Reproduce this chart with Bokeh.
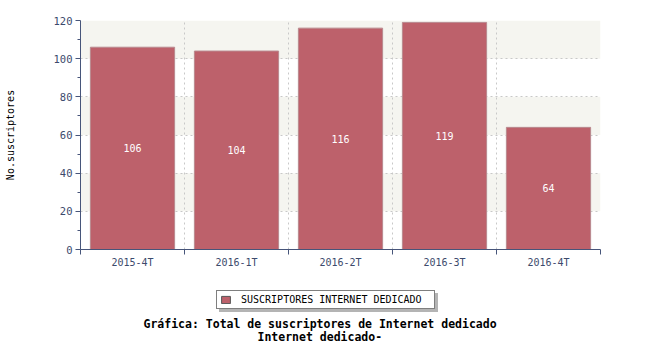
from bokeh.plotting import figure
from bokeh.layouts import column
from bokeh.models import (Range1d, FixedTicker, LinearAxis, Legend, LegendItem,
                          Label, Grid, ColumnDataSource)
from bokeh.core.properties import value
from bokeh.embed import file_html
from bokeh.resources import INLINE

categories = ["2015-4T", "2016-1T", "2016-2T", "2016-3T", "2016-4T"]
values = [106, 104, 116, 119, 64]
series_name = "SUSCRIPTORES INTERNET DEDICADO"
y_ticks = [0, 20, 40, 60, 80, 100, 120]
y_minor = [10, 30, 50, 70, 90, 110]
title_lines = ["Gráfica: Total de suscriptores de Internet dedicado", "Internet dedicado-"]
y_label = "No.suscriptores"

FONT = "DejaVu Sans Mono"
AXIS_COLOR = "#47557a"
LABEL_COLOR = "#3c4a6c"
BAR_COLOR = "#bd616b"
BAR_EDGE = "#b98a8f"
GRID_COLOR = "#c8c8c8"

n = len(categories)
centers = [i + 0.5 for i in range(n)]
bounds = [i for i in range(n + 1)]

src = ColumnDataSource(dict(
    x=centers, top=values, mid=[v / 2 for v in values],
    txt=[str(v) for v in values], cat=categories))

# ---------------- main chart ----------------
p = figure(width=650, height=270, output_backend="svg", toolbar_location=None,
           x_range=Range1d(0, n), y_range=Range1d(0, 120),
           min_border_left=80, min_border_right=50, min_border_top=20,
           min_border_bottom=20, x_axis_type=None)
p.outline_line_color = None
p.background_fill_color = "white"

r = p.vbar(x="x", top="top", width=0.81, source=src, fill_color=BAR_COLOR,
           line_color=BAR_EDGE, line_width=1)
p.text(x="x", y="mid", text="txt", source=src, text_color="white",
       text_font_size="10px", text_align="center", text_baseline="middle",
       text_font=value(FONT))

ya = p.yaxis[0]
ya.ticker = FixedTicker(ticks=y_ticks, minor_ticks=y_minor)
ya.axis_line_color = AXIS_COLOR
ya.major_tick_line_color = AXIS_COLOR
ya.minor_tick_line_color = AXIS_COLOR
ya.major_tick_in = 0
ya.major_tick_out = 5
ya.minor_tick_in = 0
ya.minor_tick_out = 3
ya.major_label_standoff = 3
ya.major_label_text_color = LABEL_COLOR
ya.major_label_text_font = FONT
ya.major_label_text_font_size = "10.5px"
ya.axis_label = y_label
ya.axis_label_standoff = 35
ya.axis_label_text_font = FONT
ya.axis_label_text_font_style = "normal"
ya.axis_label_text_font_size = "10px"
ya.axis_label_text_color = "black"

xa = LinearAxis(ticker=FixedTicker(ticks=bounds))
xa.axis_line_color = AXIS_COLOR
xa.major_tick_line_color = AXIS_COLOR
xa.minor_tick_line_color = None
xa.major_tick_in = 0
xa.major_tick_out = 5
xa.major_label_text_font_size = "0px"
xa.major_label_text_color = None
xa.major_label_standoff = 0
p.add_layout(xa, "below")

xl = LinearAxis(ticker=FixedTicker(ticks=centers),
                major_label_overrides={c: cat for c, cat in zip(centers, categories)})
xl.axis_line_color = None
xl.major_tick_line_color = None
xl.minor_tick_line_color = None
xl.major_tick_out = 0
xl.major_tick_in = 0
xl.major_label_standoff = 2
xl.major_label_text_color = LABEL_COLOR
xl.major_label_text_font = FONT
xl.major_label_text_font_size = "10px"
p.add_layout(xl, "below")

p.ygrid.ticker = FixedTicker(ticks=y_ticks)
p.ygrid.grid_line_color = GRID_COLOR
p.ygrid.grid_line_dash = "2 3"
p.ygrid.band_fill_color = "#f5f5f0"
p.ygrid.band_fill_alpha = 1.0
p.add_layout(Grid(dimension=0, ticker=FixedTicker(ticks=bounds),
                  grid_line_color=GRID_COLOR, grid_line_dash="2 3"))

# ---------------- legend + caption strip ----------------
p2 = figure(width=650, height=80, output_backend="svg", toolbar_location=None,
            x_range=Range1d(-100, -50), y_range=Range1d(-100, -50),
            min_border_left=0, min_border_right=0, min_border_top=0,
            min_border_bottom=0, x_axis_type=None, y_axis_type=None)
p2.outline_line_color = None
p2.xgrid.visible = False
p2.ygrid.visible = False

# series renderers used only for the legend swatches (hidden in this strip)
swatch = p2.vbar(x="x", top="top", width=0.81, source=src,
                 fill_color=BAR_COLOR, line_color="#555555", visible=False)
ghost = p2.vbar(x="x", top="top", width=0.81, source=src,
                fill_alpha=0, line_alpha=0, visible=False)

shadow = Legend(items=[LegendItem(label=" ", renderers=[ghost])],
                location=(139, 38), orientation="horizontal",
                border_line_color="#b4b4b4", border_line_width=1,
                background_fill_color="#b4b4b4", background_fill_alpha=1,
                padding=3, margin=0, glyph_width=11, glyph_height=9,
                label_standoff=10, label_width=190, label_height=11,
                label_text_font=FONT, label_text_font_size="10px",
                label_text_alpha=0)
p2.add_layout(shadow, "center")

leg = Legend(items=[LegendItem(label=series_name, renderers=[swatch])],
             location=(136, 41), orientation="horizontal",
             border_line_color="black", border_line_width=1,
             background_fill_color="white", background_fill_alpha=1,
             padding=3, margin=0, glyph_width=11, glyph_height=9,
             label_standoff=10, label_width=190, label_height=11,
             label_text_font=FONT, label_text_font_size="10px",
             label_text_color="black")
p2.add_layout(leg, "center")

p2.add_layout(Label(x=63, y=27, x_units="screen", y_units="screen",
                    text=title_lines[0], text_align="left",
                    text_baseline="middle", text_font=FONT,
                    text_font_style="bold", text_font_size="11.5px",
                    text_color="black"))
p2.add_layout(Label(x=177, y=14, x_units="screen", y_units="screen",
                    text=title_lines[1], text_align="left",
                    text_baseline="middle", text_font=FONT,
                    text_font_style="bold", text_font_size="11.5px",
                    text_color="black"))

layout = column(p, p2, spacing=0)
open("out.html", "w").write(file_html(layout, INLINE))
